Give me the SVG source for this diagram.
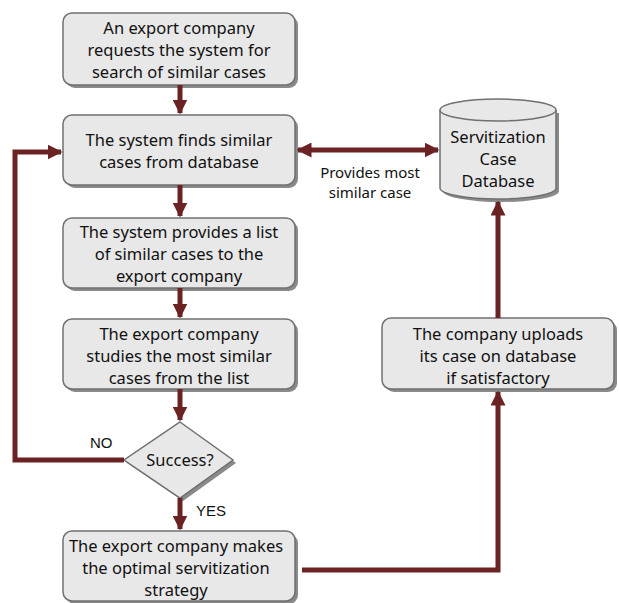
<svg xmlns="http://www.w3.org/2000/svg" width="619" height="603" viewBox="0 0 619 603">
<defs>
<style>
.box{fill:#e8e8e8;stroke:#707070;stroke-width:1.5}
.sh{fill:#8a8a8a}
.t{font-family:"Noto Sans","DejaVu Sans",sans-serif;font-size:16.5px;fill:#111;text-anchor:middle}
.l{font-family:"Liberation Sans",Arial,sans-serif;font-size:15px;fill:#111}
.c{fill:none;stroke:#6b2222;stroke-width:5}
</style>
<marker id="ah" viewBox="0 0 10 10" refX="9" refY="5" markerWidth="3" markerHeight="3" orient="auto-start-reverse" markerUnits="strokeWidth">
<path d="M0,0 L10,5 L0,10 z" fill="#6b2222"/>
</marker>
</defs>
<rect width="619" height="603" fill="#fff"/>
<g id="n1"><rect class="sh" x="66" y="16" width="232" height="72" rx="9"/><rect class="box" x="63" y="13" width="232" height="72" rx="9"/>
<text class="t" x="179" y="34">An export company</text><text class="t" x="179" y="56">requests the system for</text><text class="t" x="179" y="78">search of similar cases</text></g>
<g id="n2"><rect class="sh" x="66" y="118" width="232" height="70" rx="9"/><rect class="box" x="63" y="115" width="232" height="70" rx="9"/>
<text class="t" x="179" y="146">The system finds similar</text><text class="t" x="179" y="168">cases from database</text></g>
<g id="n3"><rect class="sh" x="66" y="221" width="232" height="70" rx="9"/><rect class="box" x="63" y="218" width="232" height="70" rx="9"/>
<text class="t" x="179" y="238">The system provides a list</text><text class="t" x="179" y="260">of similar cases to the</text><text class="t" x="179" y="282">export company</text></g>
<g id="n4"><rect class="sh" x="66" y="322" width="232" height="70" rx="9"/><rect class="box" x="63" y="319" width="232" height="70" rx="9"/>
<text class="t" x="179" y="340">The export company</text><text class="t" x="179" y="362">studies the most similar</text><text class="t" x="179" y="384">cases from the list</text></g>
<g id="n5"><polygon class="sh" points="183,425 236,463 183,501 127,463"/><polygon class="box" points="180,422 233,460 180,498 124,460"/>
<text class="t" x="180" y="466">Success?</text></g>
<g id="n6"><rect class="sh" x="66" y="534" width="232" height="70" rx="9"/><rect class="box" x="63" y="531" width="232" height="70" rx="9"/>
<text class="t" x="176" y="552">The export company makes</text><text class="t" x="176" y="574">the optimal servitization</text><text class="t" x="176" y="596">strategy</text></g>
<g id="n7"><rect class="sh" x="385" y="321" width="232" height="71" rx="9"/><rect class="box" x="382" y="318" width="232" height="71" rx="9"/>
<text class="t" x="498" y="340">The company uploads</text><text class="t" x="498" y="362">its case on database</text><text class="t" x="498" y="384">if satisfactory</text></g>
<g id="db">
<path class="sh" d="M443,113 L443,191 A58,11 0 0 0 559,191 L559,113 Z"/>
<path class="box" d="M440,110 L440,188 A58,11 0 0 0 556,188 L556,110 A58,11 0 0 0 440,110 Z"/>
<path d="M440,110 A58,11 0 0 0 556,110" fill="none" stroke="#707070" stroke-width="1.5"/>
<text class="t" x="498" y="143">Servitization</text><text class="t" x="498" y="165">Case</text><text class="t" x="498" y="187">Database</text></g>
<g id="connectors">
<line class="c" x1="180" y1="85" x2="180" y2="113" marker-end="url(#ah)"/>
<line class="c" x1="180" y1="185" x2="180" y2="216" marker-end="url(#ah)"/>
<line class="c" x1="180" y1="288" x2="180" y2="317" marker-end="url(#ah)"/>
<line class="c" x1="180" y1="389" x2="180" y2="420" marker-end="url(#ah)"/>
<line class="c" x1="180" y1="498" x2="180" y2="529" marker-end="url(#ah)"/>
<polyline class="c" points="124,460 15,460 15,152 61,152" marker-end="url(#ah)"/>
<line class="c" x1="298" y1="150" x2="438" y2="150" marker-start="url(#ah)" marker-end="url(#ah)"/>
<polyline class="c" points="302,570 498,570 498,392" marker-end="url(#ah)"/>
<line class="c" x1="498" y1="318" x2="498" y2="202" marker-end="url(#ah)"/>
</g>
<g id="labels">
<text class="t" x="370" y="178" style="font-size:15px">Provides most</text><text class="t" x="370" y="198" style="font-size:15px">similar case</text>
<text class="l" x="90" y="448">NO</text>
<text class="l" x="196" y="516">YES</text>
</g>
</svg>
